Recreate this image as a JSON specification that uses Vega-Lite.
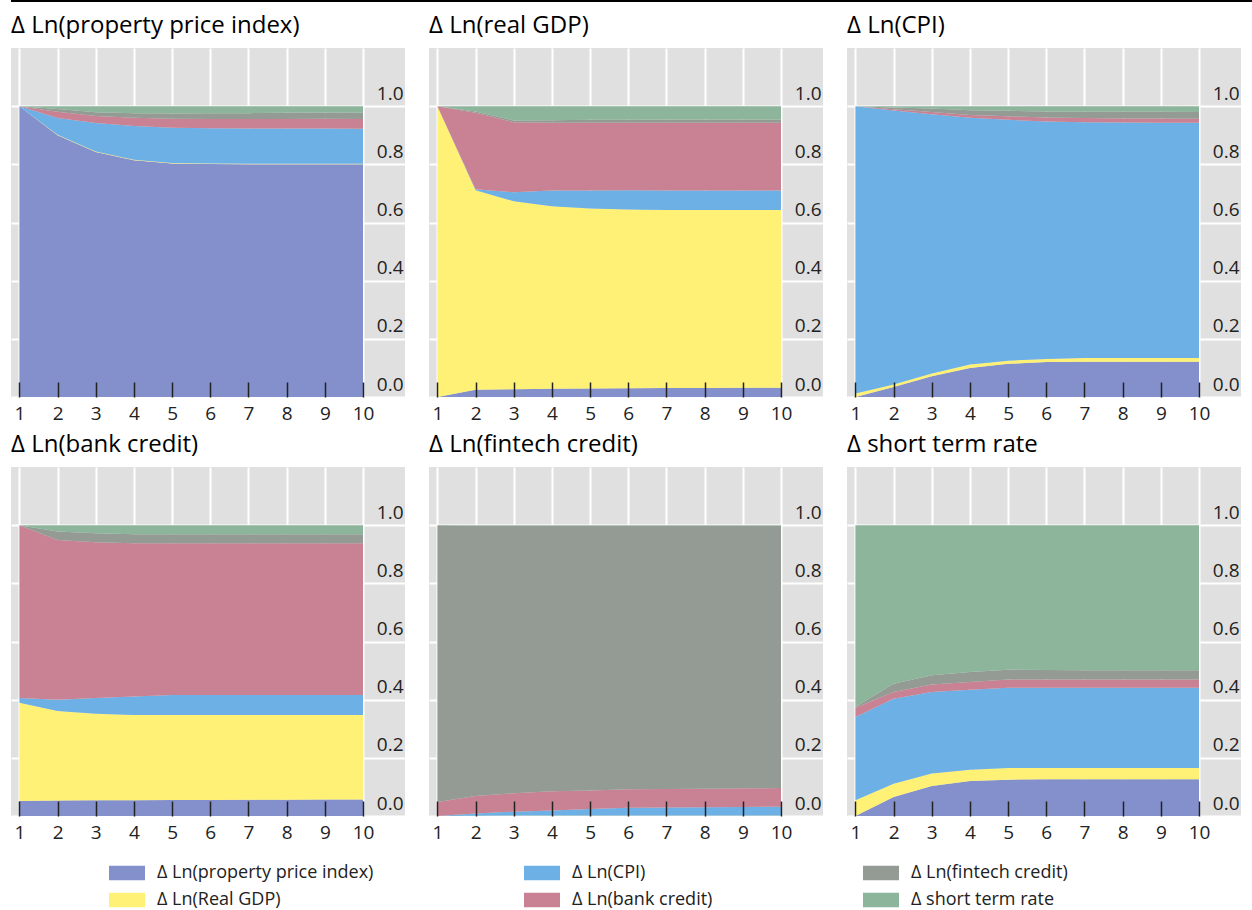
{
  "$schema": "https://vega.github.io/schema/vega-lite/v6.json",
  "padding": {"left": 10, "top": 0, "right": 0, "bottom": 0},
  "background": "white",
  "datasets": {
    "vd": [
      {"panel": "Δ Ln(property price index)", "h": 1, "prop": 1.0, "gdp": 0.0, "cpi": 0.0, "bank": 0.0, "fin": 0.0, "rate": 0.0},
      {"panel": "Δ Ln(property price index)", "h": 2, "prop": 0.900, "gdp": 0.002, "cpi": 0.057, "bank": 0.022, "fin": 0.009, "rate": 0.010},
      {"panel": "Δ Ln(property price index)", "h": 3, "prop": 0.842, "gdp": 0.002, "cpi": 0.098, "bank": 0.024, "fin": 0.013, "rate": 0.021},
      {"panel": "Δ Ln(property price index)", "h": 4, "prop": 0.814, "gdp": 0.002, "cpi": 0.116, "bank": 0.028, "fin": 0.016, "rate": 0.024},
      {"panel": "Δ Ln(property price index)", "h": 5, "prop": 0.803, "gdp": 0.002, "cpi": 0.121, "bank": 0.031, "fin": 0.018, "rate": 0.025},
      {"panel": "Δ Ln(property price index)", "h": 6, "prop": 0.801, "gdp": 0.002, "cpi": 0.121, "bank": 0.032, "fin": 0.020, "rate": 0.024},
      {"panel": "Δ Ln(property price index)", "h": 7, "prop": 0.800, "gdp": 0.002, "cpi": 0.121, "bank": 0.033, "fin": 0.020, "rate": 0.024},
      {"panel": "Δ Ln(property price index)", "h": 8, "prop": 0.800, "gdp": 0.002, "cpi": 0.121, "bank": 0.033, "fin": 0.021, "rate": 0.023},
      {"panel": "Δ Ln(property price index)", "h": 9, "prop": 0.800, "gdp": 0.002, "cpi": 0.121, "bank": 0.034, "fin": 0.021, "rate": 0.022},
      {"panel": "Δ Ln(property price index)", "h": 10, "prop": 0.800, "gdp": 0.002, "cpi": 0.120, "bank": 0.034, "fin": 0.021, "rate": 0.023},
      {"panel": "Δ Ln(real GDP)", "h": 1, "prop": 0.0, "gdp": 1.0, "cpi": 0.0, "bank": 0.0, "fin": 0.0, "rate": 0.0},
      {"panel": "Δ Ln(real GDP)", "h": 2, "prop": 0.025, "gdp": 0.686, "cpi": 0.003, "bank": 0.263, "fin": 0.005, "rate": 0.018},
      {"panel": "Δ Ln(real GDP)", "h": 3, "prop": 0.027, "gdp": 0.646, "cpi": 0.031, "bank": 0.241, "fin": 0.006, "rate": 0.049},
      {"panel": "Δ Ln(real GDP)", "h": 4, "prop": 0.028, "gdp": 0.628, "cpi": 0.054, "bank": 0.233, "fin": 0.009, "rate": 0.048},
      {"panel": "Δ Ln(real GDP)", "h": 5, "prop": 0.029, "gdp": 0.619, "cpi": 0.062, "bank": 0.233, "fin": 0.010, "rate": 0.047},
      {"panel": "Δ Ln(real GDP)", "h": 6, "prop": 0.030, "gdp": 0.615, "cpi": 0.066, "bank": 0.232, "fin": 0.010, "rate": 0.047},
      {"panel": "Δ Ln(real GDP)", "h": 7, "prop": 0.031, "gdp": 0.612, "cpi": 0.067, "bank": 0.233, "fin": 0.011, "rate": 0.046},
      {"panel": "Δ Ln(real GDP)", "h": 8, "prop": 0.031, "gdp": 0.612, "cpi": 0.067, "bank": 0.233, "fin": 0.011, "rate": 0.046},
      {"panel": "Δ Ln(real GDP)", "h": 9, "prop": 0.032, "gdp": 0.611, "cpi": 0.067, "bank": 0.233, "fin": 0.011, "rate": 0.046},
      {"panel": "Δ Ln(real GDP)", "h": 10, "prop": 0.032, "gdp": 0.611, "cpi": 0.067, "bank": 0.233, "fin": 0.011, "rate": 0.046},
      {"panel": "Δ Ln(CPI)", "h": 1, "prop": 0.0, "gdp": 0.012, "cpi": 0.988, "bank": 0.0, "fin": 0.0, "rate": 0.0},
      {"panel": "Δ Ln(CPI)", "h": 2, "prop": 0.034, "gdp": 0.009, "cpi": 0.942, "bank": 0.004, "fin": 0.006, "rate": 0.005},
      {"panel": "Δ Ln(CPI)", "h": 3, "prop": 0.071, "gdp": 0.010, "cpi": 0.891, "bank": 0.008, "fin": 0.012, "rate": 0.008},
      {"panel": "Δ Ln(CPI)", "h": 4, "prop": 0.100, "gdp": 0.012, "cpi": 0.848, "bank": 0.010, "fin": 0.016, "rate": 0.014},
      {"panel": "Δ Ln(CPI)", "h": 5, "prop": 0.114, "gdp": 0.011, "cpi": 0.828, "bank": 0.012, "fin": 0.019, "rate": 0.016},
      {"panel": "Δ Ln(CPI)", "h": 6, "prop": 0.120, "gdp": 0.011, "cpi": 0.816, "bank": 0.014, "fin": 0.021, "rate": 0.018},
      {"panel": "Δ Ln(CPI)", "h": 7, "prop": 0.121, "gdp": 0.013, "cpi": 0.811, "bank": 0.014, "fin": 0.022, "rate": 0.019},
      {"panel": "Δ Ln(CPI)", "h": 8, "prop": 0.121, "gdp": 0.013, "cpi": 0.810, "bank": 0.014, "fin": 0.023, "rate": 0.019},
      {"panel": "Δ Ln(CPI)", "h": 9, "prop": 0.121, "gdp": 0.013, "cpi": 0.809, "bank": 0.015, "fin": 0.023, "rate": 0.019},
      {"panel": "Δ Ln(CPI)", "h": 10, "prop": 0.121, "gdp": 0.013, "cpi": 0.809, "bank": 0.014, "fin": 0.023, "rate": 0.020},
      {"panel": "Δ Ln(bank credit)", "h": 1, "prop": 0.052, "gdp": 0.337, "cpi": 0.017, "bank": 0.594, "fin": 0.0, "rate": 0.0},
      {"panel": "Δ Ln(bank credit)", "h": 2, "prop": 0.053, "gdp": 0.308, "cpi": 0.039, "bank": 0.549, "fin": 0.029, "rate": 0.022},
      {"panel": "Δ Ln(bank credit)", "h": 3, "prop": 0.054, "gdp": 0.298, "cpi": 0.054, "bank": 0.535, "fin": 0.031, "rate": 0.028},
      {"panel": "Δ Ln(bank credit)", "h": 4, "prop": 0.054, "gdp": 0.293, "cpi": 0.064, "bank": 0.527, "fin": 0.031, "rate": 0.031},
      {"panel": "Δ Ln(bank credit)", "h": 5, "prop": 0.055, "gdp": 0.292, "cpi": 0.069, "bank": 0.522, "fin": 0.031, "rate": 0.031},
      {"panel": "Δ Ln(bank credit)", "h": 6, "prop": 0.055, "gdp": 0.292, "cpi": 0.069, "bank": 0.522, "fin": 0.031, "rate": 0.031},
      {"panel": "Δ Ln(bank credit)", "h": 7, "prop": 0.056, "gdp": 0.291, "cpi": 0.069, "bank": 0.522, "fin": 0.031, "rate": 0.031},
      {"panel": "Δ Ln(bank credit)", "h": 8, "prop": 0.056, "gdp": 0.291, "cpi": 0.069, "bank": 0.522, "fin": 0.031, "rate": 0.031},
      {"panel": "Δ Ln(bank credit)", "h": 9, "prop": 0.057, "gdp": 0.290, "cpi": 0.069, "bank": 0.522, "fin": 0.031, "rate": 0.031},
      {"panel": "Δ Ln(bank credit)", "h": 10, "prop": 0.057, "gdp": 0.290, "cpi": 0.069, "bank": 0.522, "fin": 0.031, "rate": 0.031},
      {"panel": "Δ Ln(fintech credit)", "h": 1, "prop": 0.0, "gdp": 0.0, "cpi": 0.0, "bank": 0.048, "fin": 0.952, "rate": 0.0},
      {"panel": "Δ Ln(fintech credit)", "h": 2, "prop": 0.0, "gdp": 0.001, "cpi": 0.008, "bank": 0.060, "fin": 0.930, "rate": 0.001},
      {"panel": "Δ Ln(fintech credit)", "h": 3, "prop": 0.001, "gdp": 0.001, "cpi": 0.013, "bank": 0.063, "fin": 0.921, "rate": 0.001},
      {"panel": "Δ Ln(fintech credit)", "h": 4, "prop": 0.001, "gdp": 0.001, "cpi": 0.017, "bank": 0.066, "fin": 0.914, "rate": 0.001},
      {"panel": "Δ Ln(fintech credit)", "h": 5, "prop": 0.001, "gdp": 0.001, "cpi": 0.022, "bank": 0.064, "fin": 0.911, "rate": 0.001},
      {"panel": "Δ Ln(fintech credit)", "h": 6, "prop": 0.001, "gdp": 0.001, "cpi": 0.026, "bank": 0.064, "fin": 0.907, "rate": 0.001},
      {"panel": "Δ Ln(fintech credit)", "h": 7, "prop": 0.001, "gdp": 0.001, "cpi": 0.027, "bank": 0.064, "fin": 0.906, "rate": 0.001},
      {"panel": "Δ Ln(fintech credit)", "h": 8, "prop": 0.001, "gdp": 0.001, "cpi": 0.028, "bank": 0.064, "fin": 0.905, "rate": 0.001},
      {"panel": "Δ Ln(fintech credit)", "h": 9, "prop": 0.001, "gdp": 0.001, "cpi": 0.029, "bank": 0.064, "fin": 0.904, "rate": 0.001},
      {"panel": "Δ Ln(fintech credit)", "h": 10, "prop": 0.001, "gdp": 0.001, "cpi": 0.030, "bank": 0.064, "fin": 0.903, "rate": 0.001},
      {"panel": "Δ short term rate", "h": 1, "prop": 0.0, "gdp": 0.054, "cpi": 0.286, "bank": 0.032, "fin": 0.004, "rate": 0.624},
      {"panel": "Δ short term rate", "h": 2, "prop": 0.065, "gdp": 0.046, "cpi": 0.292, "bank": 0.023, "fin": 0.029, "rate": 0.545},
      {"panel": "Δ short term rate", "h": 3, "prop": 0.103, "gdp": 0.043, "cpi": 0.280, "bank": 0.026, "fin": 0.032, "rate": 0.516},
      {"panel": "Δ short term rate", "h": 4, "prop": 0.120, "gdp": 0.039, "cpi": 0.275, "bank": 0.027, "fin": 0.034, "rate": 0.505},
      {"panel": "Δ short term rate", "h": 5, "prop": 0.125, "gdp": 0.040, "cpi": 0.276, "bank": 0.028, "fin": 0.034, "rate": 0.497},
      {"panel": "Δ short term rate", "h": 6, "prop": 0.126, "gdp": 0.039, "cpi": 0.276, "bank": 0.028, "fin": 0.033, "rate": 0.498},
      {"panel": "Δ short term rate", "h": 7, "prop": 0.126, "gdp": 0.039, "cpi": 0.276, "bank": 0.028, "fin": 0.032, "rate": 0.499},
      {"panel": "Δ short term rate", "h": 8, "prop": 0.126, "gdp": 0.039, "cpi": 0.276, "bank": 0.028, "fin": 0.032, "rate": 0.499},
      {"panel": "Δ short term rate", "h": 9, "prop": 0.126, "gdp": 0.039, "cpi": 0.276, "bank": 0.028, "fin": 0.032, "rate": 0.499},
      {"panel": "Δ short term rate", "h": 10, "prop": 0.126, "gdp": 0.039, "cpi": 0.276, "bank": 0.028, "fin": 0.032, "rate": 0.499}
    ],
    "shocks": [
      {"shock": "prop", "label": "Δ Ln(property price index)", "k": 1},
      {"shock": "gdp", "label": "Δ Ln(Real GDP)", "k": 2},
      {"shock": "cpi", "label": "Δ Ln(CPI)", "k": 3},
      {"shock": "bank", "label": "Δ Ln(bank credit)", "k": 4},
      {"shock": "fin", "label": "Δ Ln(fintech credit)", "k": 5},
      {"shock": "rate", "label": "Δ short term rate", "k": 6}
    ],
    "topline": [{"y": 1}]
  },
  "vconcat": [
    {
      "data": {"name": "topline"},
      "width": 1242,
      "height": 2,
      "view": {"fill": "white", "stroke": null},
      "mark": {"type": "rule", "color": "black", "strokeWidth": 2},
      "encoding": {
        "y": {"field": "y", "type": "quantitative", "scale": {"domain": [0, 2]}, "axis": null}
      }
    },
    {
      "data": {"name": "vd"},
      "transform": [
        {"fold": ["prop", "gdp", "cpi", "bank", "fin", "rate"], "as": ["shock", "v"]},
        {"lookup": "shock", "from": {"data": {"name": "shocks"}, "key": "shock", "fields": ["label", "k"]}}
      ],
      "facet": {
        "field": "panel",
        "type": "nominal",
        "title": null,
        "sort": ["Δ Ln(property price index)", "Δ Ln(real GDP)", "Δ Ln(CPI)", "Δ Ln(bank credit)", "Δ Ln(fintech credit)", "Δ short term rate"],
        "header": {
          "labelFontSize": 24,
          "labelFont": "Open Sans",
          "labelColor": "black",
          "labelAnchor": "start",
          "labelAlign": "left",
          "labelPadding": 10
        }
      },
      "columns": 3,
      "spacing": {"column": 24, "row": 10},
      "spec": {
        "width": 394,
        "height": 349,
        "layer": [
          {
            "mark": {"type": "area", "interpolate": "linear"},
            "encoding": {
              "x": {
                "field": "h", "type": "quantitative",
                "scale": {"domain": [0.78, 11.1], "nice": false, "zero": false},
                "axis": {"title": null, "orient": "bottom", "values": [1, 2, 3, 4, 5, 6, 7, 8, 9, 10], "grid": true, "gridColor": "white", "gridWidth": 2, "ticks": false, "labels": false, "domain": false, "zindex": 0, "minExtent": 0, "maxExtent": 0}
              },
              "y": {
                "field": "v", "type": "quantitative", "stack": "zero",
                "scale": {"domain": [0, 1.2], "nice": false},
                "axis": {"title": null, "orient": "right", "values": [0, 0.2, 0.4, 0.6, 0.8, 1.0], "format": ".1f", "grid": true, "gridColor": "white", "gridWidth": 2, "ticks": false, "domain": false, "labelAlign": "right", "labelBaseline": "alphabetic", "labelPadding": -2, "labelOffset": -7, "labelFontSize": 19, "labelColor": "#222222", "labelFlush": false, "labelOverlap": false, "minExtent": 0, "maxExtent": 0, "zindex": 0}
              },
              "color": {
                "field": "label", "type": "nominal",
                "scale": {
                  "domain": ["Δ Ln(property price index)", "Δ Ln(Real GDP)", "Δ Ln(CPI)", "Δ Ln(bank credit)", "Δ Ln(fintech credit)", "Δ short term rate"],
                  "range": ["#8490cc", "#fff176", "#6cb0e6", "#c98294", "#949b94", "#8db59c"]
                },
                "legend": {"title": null}
              },
              "order": {"field": "k", "type": "quantitative"}
            }
          },
          {
            "mark": {"type": "point", "opacity": 0},
            "encoding": {
              "x": {
                "field": "h", "type": "quantitative",
                "axis": {"title": null, "orient": "bottom", "values": [1, 2, 3, 4, 5, 6, 7, 8, 9, 10], "grid": false, "ticks": true, "tickSize": -15, "tickColor": "#222222", "tickWidth": 1.5, "labels": true, "labelFontSize": 19, "labelColor": "#222222", "labelPadding": 22, "labelFlush": false, "labelOverlap": false, "domain": false, "zindex": 1}
              }
            }
          }
        ],
        "resolve": {"axis": {"x": "independent"}}
      },
      "resolve": {"axis": {"x": "independent", "y": "independent"}}
    }
  ],
  "spacing": 12,
  "config": {
    "font": "Open Sans",
    "view": {"stroke": null, "fill": "#e0e0e0"},
    "legend": {
      "orient": "none",
      "legendX": 98,
      "legendY": 855,
      "columns": 3,
      "columnPadding": 150,
      "rowPadding": 0,
      "labelFontSize": 18,
      "labelColor": "#222222",
      "labelLimit": 400,
      "labelOffset": 12,
      "symbolType": "M-1,-0.4H1V0.4H-1Z",
      "symbolSize": 1296,
      "symbolStrokeWidth": 0,
      "symbolOpacity": 1
    }
  }
}
